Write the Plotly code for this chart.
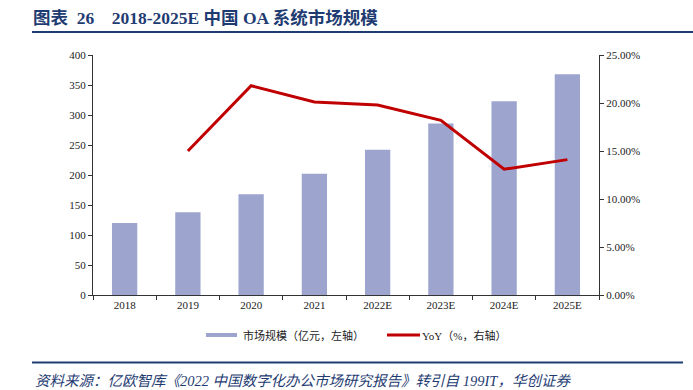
import plotly.graph_objects as go

categories = ["2018", "2019", "2020", "2021", "2022E", "2023E", "2024E", "2025E"]
market_size = [120, 138, 168, 202, 242, 286, 323, 368]
yoy_pct = [None, 15.0, 21.8, 20.1, 19.8, 18.2, 13.1, 14.1]
left_ticks = [0, 50, 100, 150, 200, 250, 300, 350, 400]
right_ticks = [0, 0.05, 0.10, 0.15, 0.20, 0.25]

W, H = 693, 390
L, R, T, B = 93, 599, 55, 295
pw, ph = R - L, B - T

def px(x):
    return (x - L) / pw

def py(y):
    return (B - y) / ph

serif = "Times New Roman, Liberation Serif, Noto Sans CJK SC, serif"
navy = "#1F3C72"
bar_color = "#9DA5CF"
line_color = "#C00000"

fig = go.Figure()
fig.add_trace(go.Bar(
    x=categories, y=market_size, name="市场规模（亿元，左轴）",
    marker=dict(color=bar_color, line=dict(width=0)), yaxis="y",
))
fig.add_trace(go.Scatter(
    x=categories, y=[None if v is None else v / 100 for v in yoy_pct],
    name="YoY（%，右轴）", mode="lines",
    line=dict(color=line_color, width=3), yaxis="y2",
))

fig.update_layout(
    width=W, height=H,
    margin=dict(l=L, r=W - R, t=T, b=H - B),
    paper_bgcolor="white", plot_bgcolor="white",
    bargap=0.6,
    font=dict(family=serif, size=11, color="#222222"),
    showlegend=False,
    title=dict(text="<b>图表&nbsp;&nbsp;26&nbsp;&nbsp;&nbsp;&nbsp;2018-2025E 中国 OA 系统市场规模</b>",
               x=33 / W, xanchor="left", xref="container",
               y=1 - 18 / H, yanchor="middle", yref="container",
               font=dict(size=17.5, color=navy, family=serif)),
    xaxis=dict(type="category", showgrid=False, showline=True, linecolor="#333333", linewidth=1,
               ticks="outside", tickson="boundaries", ticklen=4, tickcolor="#333333",
               tickfont=dict(size=11)),
    yaxis=dict(range=[0, 400], tickvals=left_ticks, showgrid=False, showline=True,
               linecolor="#333333", linewidth=1, ticks="outside", ticklen=4, tickcolor="#333333",
               zeroline=False, tickfont=dict(size=11)),
    yaxis2=dict(range=[0, 0.25], tickvals=right_ticks, tickformat=".2%", overlaying="y",
                side="right", showgrid=False, showline=True, linecolor="#333333", linewidth=1,
                ticks="outside", ticklen=4, tickcolor="#333333", zeroline=False,
                tickfont=dict(size=11)),
    shapes=[
        dict(type="line", xref="paper", yref="paper", x0=px(32), x1=px(693), y0=py(32), y1=py(32),
             line=dict(color=navy, width=2)),
        dict(type="line", xref="paper", yref="paper", x0=px(32), x1=px(683), y0=py(362.5), y1=py(362.5),
             line=dict(color=navy, width=2)),
        # legend keys
        dict(type="rect", xref="paper", yref="paper", x0=px(206), x1=px(237), y0=py(337), y1=py(333),
             fillcolor=bar_color, line=dict(width=0)),
        dict(type="line", xref="paper", yref="paper", x0=px(387), x1=px(420), y0=py(335), y1=py(335),
             line=dict(color=line_color, width=3)),
    ],
    annotations=[
        dict(text="市场规模（亿元，左轴）", xref="paper", yref="paper", x=px(241), y=py(335),
             xanchor="left", yanchor="middle", showarrow=False,
             font=dict(size=11, color="#222222", family=serif)),
        dict(text="YoY（%，右轴）", xref="paper", yref="paper", x=px(420), y=py(335),
             xanchor="left", yanchor="middle", showarrow=False,
             font=dict(size=11, color="#222222", family=serif)),
        dict(text="<i>资料来源：亿欧智库《2022 中国数字化办公市场研究报告》转引自 199IT，华创证券</i>",
             xref="paper", yref="paper", x=px(33), y=py(381), xanchor="left", yanchor="middle",
             showarrow=False, font=dict(size=14.5, color=navy, family=serif)),
    ],
)

fig.write_html("out.html", config={"displayModeBar": False},
               post_script="document.body.style.margin='0';")
